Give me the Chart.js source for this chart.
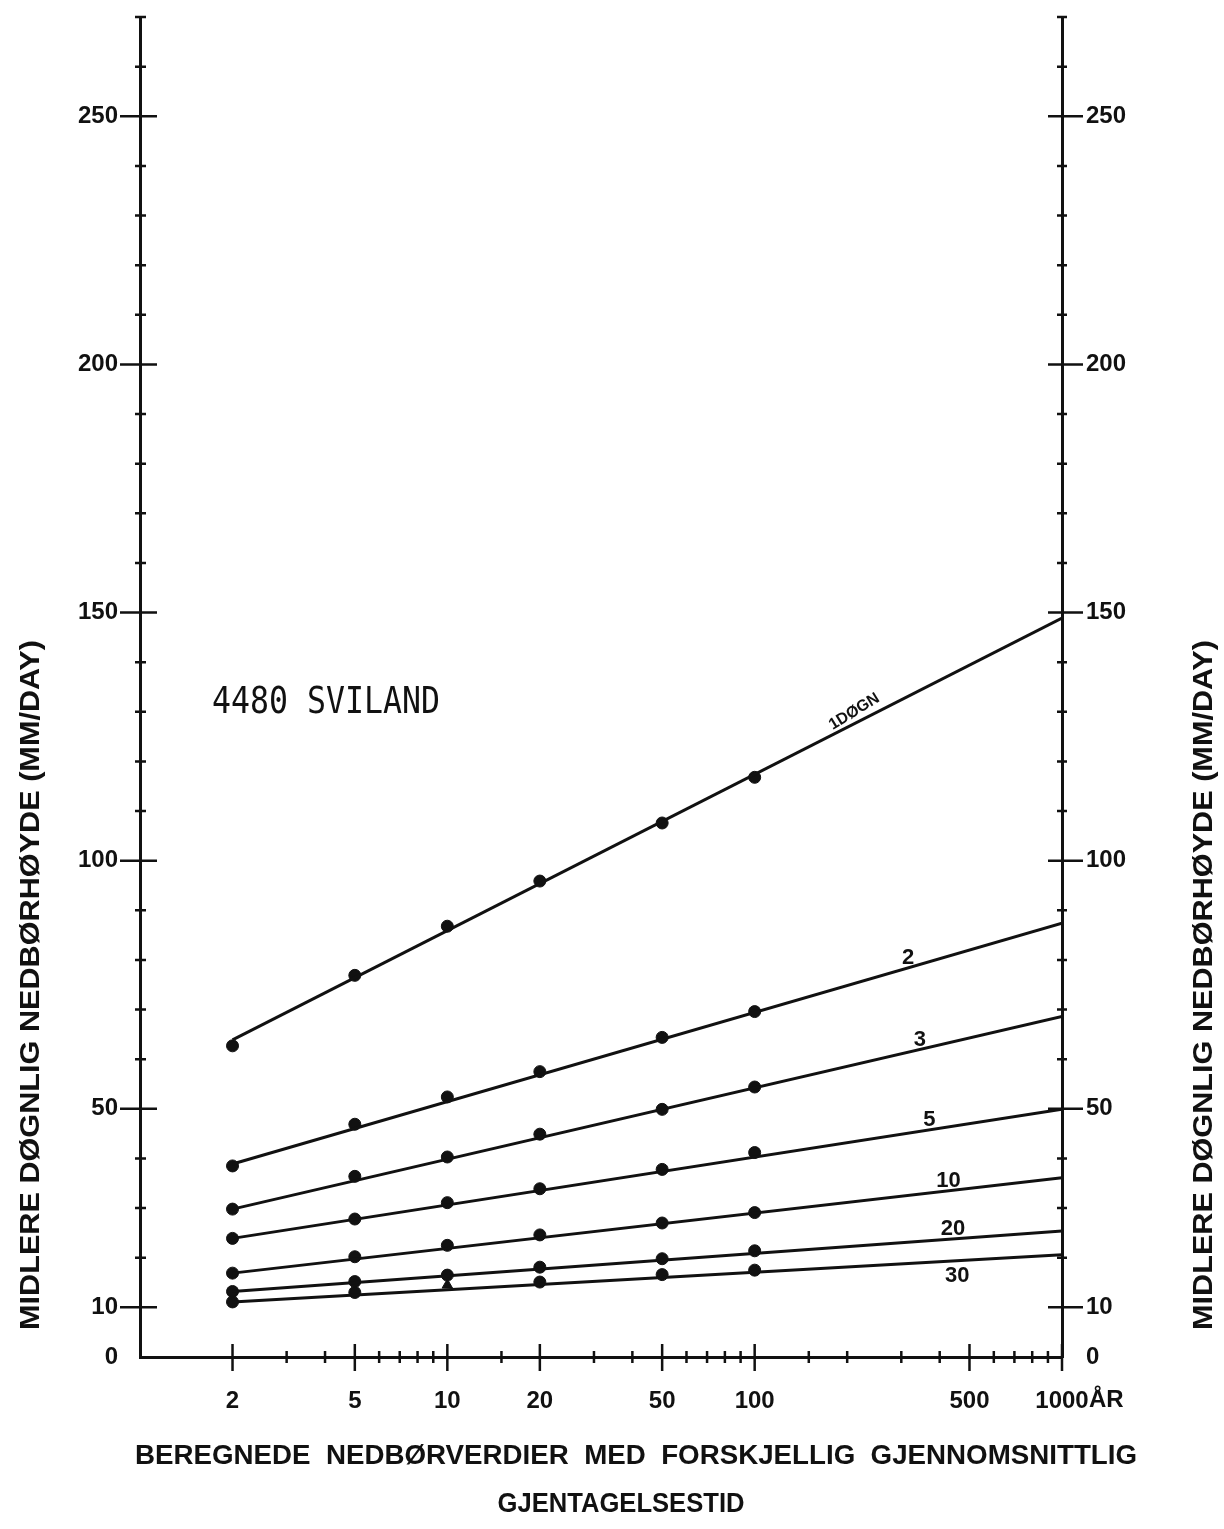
<!DOCTYPE html>
<html>
<head>
<meta charset="utf-8">
<title>4480 Sviland</title>
<script src="https://cdn.jsdelivr.net/npm/chart.js@4/dist/chart.umd.min.js"></script>
<style>
  html, body { margin: 0; padding: 0; background: #fff; }
  canvas { display: block; }
</style>
</head>
<body>
<canvas id="chart" width="1224" height="1529"></canvas>
<script>
// return periods (years) where the computed values are plotted
const returnPeriods = [2, 5, 10, 20, 50, 100];

// plotted precipitation, mm/day, one list per duration (days)
const days1 = [62.7, 76.9, 86.8, 95.9, 107.6, 116.8];
const days2 = [38.5, 46.9, 52.4, 57.5, 64.4, 69.6];
const days3 = [29.8, 36.4, 40.3, 44.9, 49.9, 54.4];
const days5 = [23.9, 27.8, 31.1, 33.9, 37.8, 41.2];
const days10 = [16.9, 20.2, 22.5, 24.6, 27.0, 29.1];
const days20 = [13.2, 15.2, 16.5, 18.1, 19.8, 21.4];
const days30 = [11.1, 13.0, 14.5, 15.1, 16.6, 17.5];

// fitted straight lines, read at 2 and 1000 years
const fitYears = [2, 1000];
const fit1 = [63.9, 148.9];
const fit2 = [38.9, 87.4];
const fit3 = [29.8, 68.6];
const fit5 = [23.9, 49.9];
const fit10 = [16.9, 36.1];
const fit20 = [13.2, 25.4];
const fit30 = [11.1, 20.6];

const durationNames = ['1DØGN', '2', '3', '5', '10', '20', '30'];
const yLabelValues = [0, 10, 50, 100, 150, 200, 250];
const xLabelValues = [2, 5, 10, 20, 50, 100, 500, 1000];

const ink = '#111';
const pointSets = [days1, days2, days3, days5, days10, days20, days30];
const fitSets = [fit1, fit2, fit3, fit5, fit10, fit20, fit30];

// where the curve names sit (year along the line, lift in px above it)
const nameAt = [211, 316, 345, 370, 427, 442, 456];
const nameLift = [12, 10, 10, 10, 10, 10, -15];

const datasets = [];
fitSets.forEach((fit, i) => {
  datasets.push({
    type: 'line',
    label: durationNames[i] + ' linje',
    data: fitYears.map((yr, k) => ({ x: yr, y: fit[k] })),
    borderColor: ink,
    borderWidth: 3,
    pointRadius: 0,
    tension: 0,
    fill: false,
  });
});
pointSets.forEach((vals, i) => {
  datasets.push({
    type: 'scatter',
    label: durationNames[i],
    data: returnPeriods.map((yr, k) => ({ x: yr, y: vals[k] })),
    backgroundColor: ink,
    borderColor: ink,
    pointRadius: 6,
    pointStyle: (c) => (i === 6 && c.dataIndex === 2 ? 'triangle' : 'circle'),
  });
});

function fittedText(ctx, text, cx, cy, width, font, angle) {
  ctx.save();
  ctx.font = font;
  ctx.translate(cx, cy);
  ctx.rotate(angle || 0);
  const w = ctx.measureText(text).width;
  ctx.scale(width / w, 1);
  ctx.textAlign = 'center';
  ctx.textBaseline = 'middle';
  ctx.fillText(text, 0, 0);
  ctx.restore();
}

const decorations = {
  id: 'decorations',
  afterDraw(chart) {
    const { ctx, chartArea: area, scales } = chart;
    const x = scales.x, yl = scales.y;
    ctx.save();
    ctx.strokeStyle = ink;
    ctx.fillStyle = ink;
    ctx.lineWidth = 2.5;

    // tick marks crossing the axes
    yl.ticks.forEach((t) => {
      if (t.value === 0) return;
      const py = yl.getPixelForValue(t.value);
      const major = yLabelValues.includes(t.value);
      ctx.beginPath();
      ctx.moveTo(area.left - (major ? 20 : 5), py);
      ctx.lineTo(area.left + (major ? 17 : 6), py);
      ctx.moveTo(area.right - (major ? 14 : 5), py);
      ctx.lineTo(area.right + (major ? 21 : 5), py);
      ctx.stroke();
    });
    x.ticks.forEach((t) => {
      if (t.value <= 1) return;
      const px = x.getPixelForValue(t.value);
      const major = xLabelValues.includes(t.value);
      ctx.beginPath();
      ctx.moveTo(px, area.bottom - (major ? 13 : 6));
      ctx.lineTo(px, area.bottom + (major ? 14 : 6));
      ctx.stroke();
    });

    // curve names
    durationNames.forEach((name, i) => {
      const pts = chart.getDatasetMeta(i).data;
      const px = x.getPixelForValue(nameAt[i]);
      const f = (px - pts[0].x) / (pts[1].x - pts[0].x);
      const py = pts[0].y + f * (pts[1].y - pts[0].y);
      if (i === 0) {
        const ang = Math.atan2(pts[1].y - pts[0].y, pts[1].x - pts[0].x) - 0.08;
        fittedText(ctx, name, px, py - nameLift[i], 56, 'bold 16px "Liberation Sans"', ang);
      } else {
        ctx.font = 'bold 22px "Liberation Sans"';
        ctx.textAlign = 'center';
        ctx.textBaseline = 'middle';
        ctx.fillText(name, px, py - nameLift[i]);
      }
    });

    // unit after last x label
    ctx.font = 'bold 24px "Liberation Sans"';
    ctx.textAlign = 'left';
    ctx.textBaseline = 'middle';
    ctx.fillText('ÅR', area.right + 27, area.bottom + 43);

    // station name
    fittedText(ctx, '4480 SVILAND', 326, 703, 228, '37px "DejaVu Sans Mono"', 0);

    // axis titles
    const yTitle = 'MIDLERE DØGNLIG NEDBØRHØYDE (MM/DAY)';
    fittedText(ctx, yTitle, 32, 985, 690, 'bold 27px "Liberation Sans"', -Math.PI / 2);
    fittedText(ctx, yTitle, 1205, 985, 690, 'bold 27px "Liberation Sans"', -Math.PI / 2);
    fittedText(ctx, 'BEREGNEDE  NEDBØRVERDIER  MED  FORSKJELLIG  GJENNOMSNITTLIG',
      636, 1457, 1002, 'bold 27px "Liberation Sans"', 0);
    fittedText(ctx, 'GJENTAGELSESTID', 621, 1505, 247, 'bold 27px "Liberation Sans"', 0);
    ctx.restore();
  },
};

const labelFont = { family: 'Liberation Sans', size: 24, weight: 'bold' };

function yAxis(position, width, padding) {
  return {
    type: 'linear',
    position: position,
    min: 0,
    max: 270,
    grid: { display: false, drawTicks: false },
    border: { display: true, color: ink, width: 3 },
    ticks: {
      stepSize: 10,
      autoSkip: false,
      padding: padding,
      color: ink,
      font: labelFont,
      callback: (v) => (yLabelValues.includes(v) ? String(v) : ''),
    },
    afterFit: (s) => {
      s.width = width;
      s.paddingTop = 0;
      s.paddingBottom = 0;
    },
  };
}

new Chart(document.getElementById('chart'), {
  data: { datasets: datasets },
  options: {
    responsive: false,
    animation: false,
    devicePixelRatio: 1,
    layout: { padding: { top: 17, left: 0, right: 0, bottom: 0 } },
    plugins: {
      legend: { display: false },
      tooltip: { enabled: false },
    },
    scales: {
      x: {
        type: 'logarithmic',
        position: 'bottom',
        min: 1,
        max: 1000,
        grid: { display: false, drawTicks: false },
        border: { display: true, color: ink, width: 3 },
        ticks: {
          autoSkip: false,
          maxRotation: 0,
          padding: 30,
          color: ink,
          font: labelFont,
          callback: (v) => (xLabelValues.includes(v) ? String(v) : ''),
        },
        afterFit: (s) => {
          s.height = 172;
          s.paddingLeft = 0;
          s.paddingRight = 0;
        },
      },
      y: yAxis('left', 140, 22),
      y2: yAxis('right', 162, 24),
    },
  },
  plugins: [decorations],
});
</script>
</body>
</html>
